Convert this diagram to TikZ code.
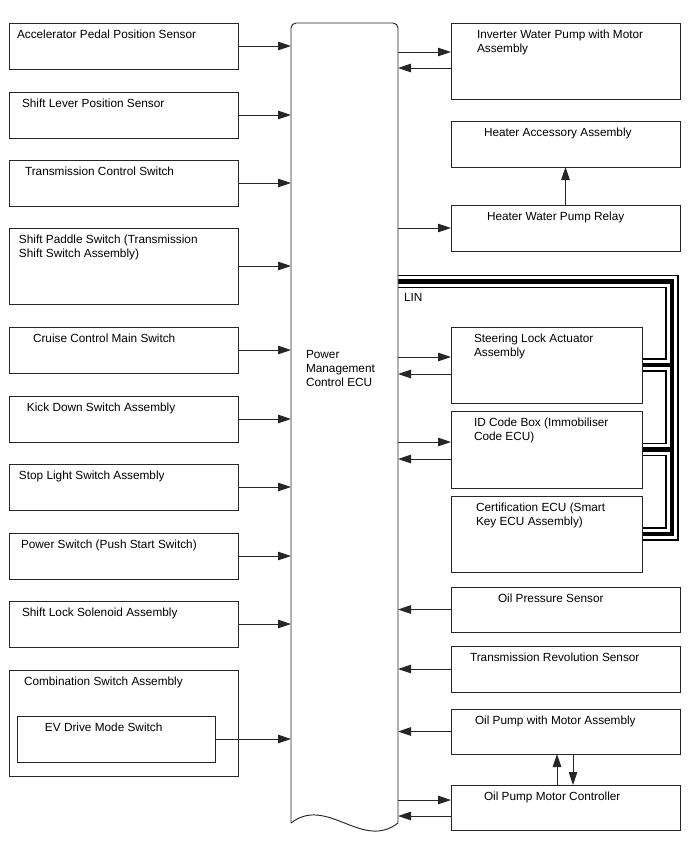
\documentclass[tikz,border=0pt]{standalone}
\usepackage{fontspec}
\setmainfont{Liberation Sans}
\usetikzlibrary{arrows.meta,calc}
\begin{document}
\begin{tikzpicture}[x=1pt,y=-1pt,
  ln/.style={draw=black!85, line width=0.95pt},
  box/.style={ln, anchor=north west, inner sep=0pt, outer sep=0pt, minimum width=229pt, minimum height=46pt},
  sbox/.style={box, minimum width=191pt},
  txt/.style={anchor=north west, inner sep=0pt, outer sep=0pt, font=\fontsize{11.8}{14}\selectfont, align=left},
  arr/.style={ln, -{Triangle[length=13pt,width=8.5pt]}}]
\useasboundingbox (0,0) rectangle (688,852);

% ECU outline frame
\node[anchor=north west, inner sep=0pt, outer sep=0pt, minimum width=107pt, minimum height=800pt] (ecu) at (291,23) {};

% right boxes (needed for the cable ends)
\node[box, minimum height=76pt] (r1) at (451,23) {};
\node[box] (r2) at (451,121) {};
\node[box] (r3) at (451,205) {};
\node[sbox, minimum height=76pt] (r4) at (451,327) {};
\node[sbox, minimum height=77pt] (r5) at (451,411) {};
\node[sbox, minimum height=76pt] (r6) at (451,496) {};
\node[box, minimum height=45pt] (r7) at (451,587) {};
\node[box] (r8) at (451,646) {};
\node[box, minimum height=45pt] (r9) at (451,709) {};
\node[box, minimum height=45pt] (r10) at (451,785) {};

% LIN cable
\coordinate (lc) at (672,281.5);
\foreach \w/\c in {13.5/black, 10.5/white, 4.5/black}{
  \draw[line width=\w pt, draw=\c, line join=miter, line cap=butt]
    (lc -| ecu.east) -- (lc) -- (lc |- r6.east) -- (r6.east)
    (r4.east) -- (r4.east -| lc)
    (r5.east) -- (r5.east -| lc);
}
\draw[ln] (r4.north east) -- (r4.south east);
\draw[ln] (r5.north east) -- (r5.south east);
\draw[ln] (r6.north east) -- (r6.south east);

\draw[ln, fill=white, rounded corners=5pt] (ecu.south west) -- (ecu.north west) -- (ecu.north east) -- (ecu.south east);
\draw[ln] (ecu.south east) .. controls +(-36,28) and +(36,-28) .. (ecu.south west);
\node[txt] (ecut) at (306,350.5) {Power\\Management\\Control ECU};

% left boxes
\node[box] (b1) at (9,23) {};
\node[box] (b2) at (9,92) {};
\node[box] (b3) at (9,160) {};
\node[box, minimum height=76pt] (b4) at (9,228) {};
\node[box] (b5) at (9,327) {};
\node[box] (b6) at (9,396) {};
\node[box] (b7) at (9,464) {};
\node[box] (b8) at (9,533) {};
\node[box] (b9) at (9,601) {};
\node[box, minimum height=106pt] (b10) at (9,670) {};
\node[box, minimum width=198pt] (ev) at (17,716) {};

\node[txt] (t1) at (17,30) {Accelerator Pedal Position Sensor};
\node[txt] (t2) at (22,99) {Shift Lever Position Sensor};
\node[txt] (t3) at (25,167) {Transmission Control Switch};
\node[txt] (t4) at (19,235) {Shift Paddle Switch (Transmission\\Shift Switch Assembly)};
\node[txt] (t5) at (33,334) {Cruise Control Main Switch};
\node[txt] (t6) at (27,403) {Kick Down Switch Assembly};
\node[txt] (t7) at (19,471) {Stop Light Switch Assembly};
\node[txt] (t8) at (21,540) {Power Switch (Push Start Switch)};
\node[txt] (t9) at (22,608) {Shift Lock Solenoid Assembly};
\node[txt] (t10) at (24,677) {Combination Switch Assembly};
\node[txt] (tev) at (45,723) {EV Drive Mode Switch};

\foreach \n in {b1,b2,b3,b4,b5,b6,b7,b8,b9,ev}{
  \draw[arr] (\n.east) -- (\n.east -| ecu.west);
}

\node[txt] (s1) at (477,30) {Inverter Water Pump with Motor\\Assembly};
\node[txt] (s2) at (484,128) {Heater Accessory Assembly};
\node[txt] (s3) at (487,212) {Heater Water Pump Relay};
\node[txt] (lin) at (404,293.5) {LIN};
\node[txt] (s4) at (474,334) {Steering Lock Actuator\\Assembly};
\node[txt] (s5) at (474,418) {ID Code Box (Immobiliser\\Code ECU)};
\node[txt] (s6) at (476,503) {Certification ECU (Smart\\Key ECU Assembly)};
\node[txt] (s7) at (498,594) {Oil Pressure Sensor};
\node[txt] (s8) at (470,653) {Transmission Revolution Sensor};
\node[txt] (s9) at (475,716) {Oil Pump with Motor Assembly};
\node[txt] (s10) at (484,792) {Oil Pump Motor Controller};

% right connectors
\foreach \n/\o/\i in {r1/9/-7, r4/8/-9, r5/7.5/-9.5, r10/7.5/-8.5}{
  \coordinate (\n o) at ([yshift=\o pt]\n.west);
  \coordinate (\n i) at ([yshift=\i pt]\n.west);
  \draw[arr] (\n o -| ecu.east) -- (\n o);
  \draw[arr] (\n i) -- (\n i -| ecu.east);
}
\draw[arr] (r3.west -| ecu.east) -- (r3.west);
\draw[arr] (r7.west) -- (r7.west -| ecu.east);
\draw[arr] (r8.west) -- (r8.west -| ecu.east);
\draw[arr] (r9.west) -- (r9.west -| ecu.east);
\draw[arr] (r3.north) -- (r2.south);
\draw[arr] ([xshift=-8.5pt]r10.north) -- ([xshift=-8.5pt]r9.south);
\draw[arr] ([xshift=7.5pt]r9.south) -- ([xshift=7.5pt]r10.north);
\end{tikzpicture}
\end{document}
